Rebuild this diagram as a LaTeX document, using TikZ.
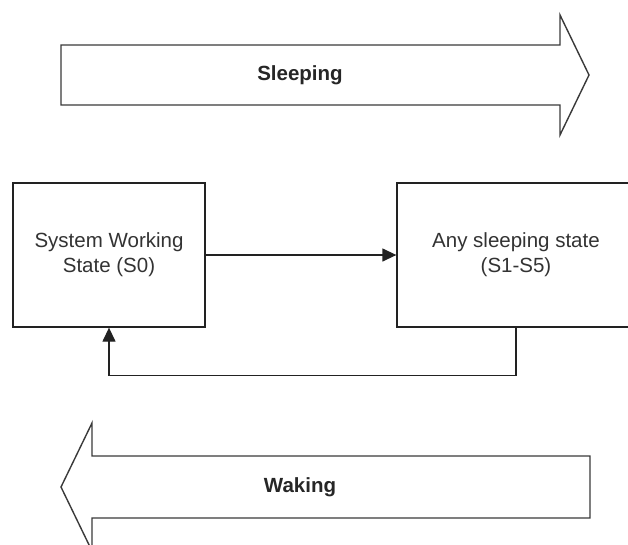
\documentclass[tikz,border=0pt]{standalone}
\usepackage{fontspec}
\setmainfont{Liberation Sans}
\usetikzlibrary{positioning, calc, arrows.meta}
\definecolor{Dark}{HTML}{222222}
\definecolor{Outline}{HTML}{3A3A3A}
\definecolor{Label}{HTML}{333333}
\tikzset{
    statebox/.style={rectangle, draw=Dark, line width=1.3pt, fill=white, text=Label, align=center,
        font=\fontsize{20.5}{25}\selectfont},
    bigarrow/.style={draw=Outline, line width=1.4pt, fill=white, line join=miter},
    phase/.style={font=\bfseries\fontsize{20.5}{25}\selectfont, text=black!85},
    arrow/.style={-{Triangle[length=14pt, width=13pt]}, line width=1.3pt, color=Dark},
}
\begin{document}
\begin{tikzpicture}[x=1pt, y=-1pt]
    \useasboundingbox (0,0) rectangle (628,544);
    \clip (0,0) rectangle (628,544);

    % Freccia grande in alto (Sleeping)
    \draw[bigarrow] (61,45) -- (560,45) -- (560,15) -- (589,75) -- (560,135) -- (560,105) -- (61,105) -- cycle;
    \node[phase] (sleeping) at (300,75) {Sleeping};

    % Stati
    \node[statebox, minimum width=192pt, minimum height=144pt] (working) at (109,255) {System Working\\State (S0)};
    \node[statebox, minimum width=238pt, minimum height=144pt] (asleep) at (516,255) {Any sleeping state\\(S1-S5)};

    % Transizioni
    \draw[arrow] (working.east) -- (asleep.west);
    \draw[arrow] (asleep.south) -- ++(0,48) -| (working.south);

    % Freccia grande in basso (Waking)
    \draw[bigarrow] (590,456) -- (92,456) -- (92,423) -- (61,487) -- (92,551) -- (92,518) -- (590,518) -- cycle;
    \node[phase] (waking) at (300,487) {Waking};
\end{tikzpicture}
\end{document}
